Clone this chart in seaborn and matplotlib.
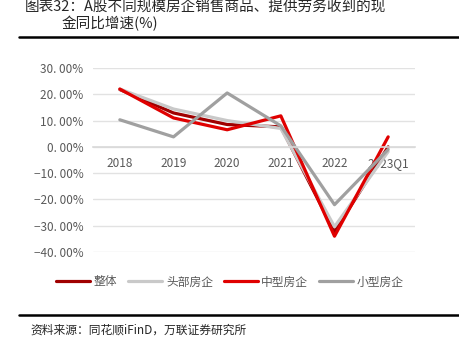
import pandas as pd
import seaborn as sns
import matplotlib.pyplot as plt
from matplotlib.ticker import FuncFormatter, FixedLocator

years = ["2018", "2019", "2020", "2021", "2022", "2023Q1"]
series = ["整体", "头部房企", "中型房企", "小型房企"]
total = [21.8, 12.9, 8.5, 7.6, -32.3, 0.0]
top = [22.0, 14.4, 10.0, 7.0, -30.4, -1.8]
mid = [22.0, 11.0, 6.5, 11.8, -34.0, 3.8]
small = [10.3, 3.8, 20.5, 8.0, -22.0, -1.0]
colors = ["#A00000", "#C9C9C9", "#E00000", "#A0A0A0"]

df = pd.DataFrame({"年份": years * 4,
                   "增速": total + top + mid + small,
                   "类别": [s for s in series for _ in years]})

sns.set_style("white")
plt.rcParams['font.family'] = ['Noto Sans CJK SC', 'DejaVu Sans']

fig = plt.figure(figsize=(4.6, 3.51), dpi=100)
ax = fig.add_axes([93 / 460, 1 - 252 / 351, 322 / 460, 184 / 351])

sns.lineplot(data=df, x="年份", y="增速", hue="类别", palette=colors,
             linewidth=2.3, sort=False, ax=ax, legend=True)

ax.set_ylim(-40, 30)
ax.set_xlim(-0.5, len(years) - 0.5)
ax.set_yticks(range(-40, 31, 10))
ax.yaxis.set_major_formatter(FuncFormatter(lambda v, p: f"{v:.2f}%".replace(".", ". ").replace("-", "−")))
ax.grid(axis="y", color="#E2E2E2", linewidth=1)
ax.set_axisbelow(True)
for s in ["left", "right", "top"]:
    ax.spines[s].set_visible(False)
ax.spines["bottom"].set_position(("data", 0))
ax.spines["bottom"].set_color("#D9D9D9")
ax.spines["bottom"].set_linewidth(1.2)
ax.xaxis.set_minor_locator(FixedLocator([i + 0.5 for i in range(-1, len(years))]))
ax.tick_params(axis="x", which="major", length=0, pad=7, labelsize=8.5, labelcolor="#595959")
ax.tick_params(axis="x", which="minor", length=4, color="#D9D9D9", width=1)
ax.tick_params(axis="y", length=0, labelsize=8.5, labelcolor="#595959", pad=7)
ax.set_xlabel("")
ax.set_ylabel("")

h, l = ax.get_legend_handles_labels()
ax.get_legend().remove()
fig.legend(h, l, loc="center", bbox_to_anchor=(0.5, 1 - 282 / 351), ncol=4,
           frameon=False, handlelength=2.9, columnspacing=0.9, handletextpad=0.3,
           prop={"size": 8.5}, labelcolor="#595959")

# title and source
fig.text(25 / 460, 1 - 8 / 351, "图表32：A股不同规模房企销售商品、提供劳务收到的现", fontsize=10.5, va="center")
fig.text(62 / 460, 1 - 24 / 351, "金同比增速(%)", fontsize=10.5, va="center")
fig.add_artist(plt.Line2D([19 / 460, 1], [1 - 37 / 351] * 2, color="black", linewidth=1.8))
fig.add_artist(plt.Line2D([19 / 460, 1], [1 - 315 / 351] * 2, color="black", linewidth=1.8))
fig.text(30 / 460, 1 - 330 / 351, "资料来源：同花顺iFinD，万联证券研究所", fontsize=8.5,
         style="italic", va="center")

fig.savefig("out.png", dpi=100)
